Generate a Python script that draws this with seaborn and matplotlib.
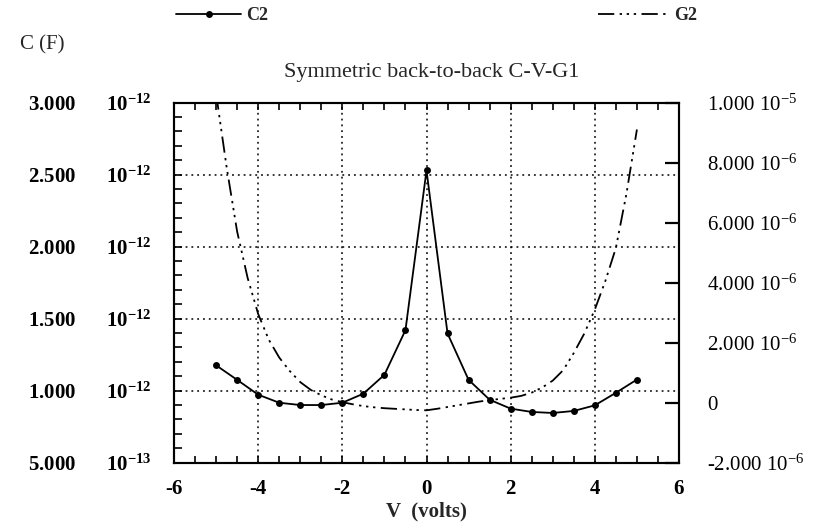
import numpy as np
import pandas as pd
import matplotlib
matplotlib.use("Agg")
import matplotlib.pyplot as plt
import seaborn as sns
from matplotlib.ticker import MultipleLocator

# ---------------- data ----------------
v_c2 = [-5.0, -4.5, -4.0, -3.5, -3.0, -2.5, -2.0, -1.5, -1.0, -0.5, 0.0,
        0.5, 1.0, 1.5, 2.0, 2.5, 3.0, 3.5, 4.0, 4.5, 5.0]
c2_pf = [1.175, 1.074, 0.971, 0.915, 0.899, 0.899, 0.915, 0.978, 1.109, 1.419, 2.528,
         1.396, 1.074, 0.936, 0.874, 0.851, 0.844, 0.858, 0.897, 0.984, 1.076]  # x 1e-12 F

v_g2 = [-5.0, -4.75, -4.5, -4.25, -4.0, -3.75, -3.5, -3.25, -3.0, -2.75, -2.5,
        -2.25, -2.0, -1.75, -1.5, -1.25, -1.0, -0.75, -0.5, -0.25, 0.0,
        0.25, 0.5, 0.75, 1.0, 1.25, 1.5, 1.75, 2.0, 2.25, 2.5,
        2.75, 3.0, 3.25, 3.5, 3.75, 4.0, 4.25, 4.5, 4.75, 5.0]
g2_us = [10.3, 7.85, 5.7, 4.15, 2.95, 2.1, 1.5, 1.05, 0.68, 0.42, 0.24,
         0.10, 0.01, -0.06, -0.12, -0.16, -0.19, -0.21, -0.23, -0.25, -0.26,
         -0.21, -0.15, -0.09, -0.03, 0.03, 0.08, 0.12, 0.16, 0.22, 0.33,
         0.50, 0.73, 1.08, 1.65, 2.30, 3.10, 4.05, 5.15, 6.95, 9.10]  # x 1e-6 S

x_ticks = [-6, -4, -2, 0, 2, 4, 6]
x_ticklabels = ["-6", "-4", "-2", "0", "2", "4", "6"]
left_ticks_pf = [0.5, 1.0, 1.5, 2.0, 2.5, 3.0]
left_ticklabels = [r"5.000      $\mathbf{10^{-13}}$", r"1.000      $\mathbf{10^{-12}}$",
                   r"1.500      $\mathbf{10^{-12}}$", r"2.000      $\mathbf{10^{-12}}$",
                   r"2.500      $\mathbf{10^{-12}}$", r"3.000      $\mathbf{10^{-12}}$"]
right_ticks_us = [-2, 0, 2, 4, 6, 8, 10]
right_ticklabels = [r"-2.000 $10^{-6}$", "0", r"2.000 $10^{-6}$", r"4.000 $10^{-6}$",
                    r"6.000 $10^{-6}$", r"8.000 $10^{-6}$", r"1.000 $10^{-5}$"]

title = "Symmetric back-to-back C-V-G1"
left_label = "C (F)"
x_label = "V  (volts)"

# ---------------- style ----------------
sns.set_theme(style="white")
plt.rcParams["font.family"] = ["Liberation Serif", "DejaVu Serif"]
plt.rcParams["mathtext.fontset"] = "custom"
plt.rcParams["mathtext.rm"] = "Liberation Serif"
plt.rcParams["mathtext.it"] = "Liberation Serif:italic"
plt.rcParams["mathtext.bf"] = "Liberation Serif:bold"

fig = plt.figure(figsize=(8.15, 5.31), dpi=100)
L, R, T, B = 174, 679, 102.5, 462.5
ax = fig.add_axes([L / 815, 1 - B / 531, (R - L) / 815, (B - T) / 531])

df_c = pd.DataFrame({"V": v_c2, "C": np.array(c2_pf) * 1e-12})
df_g = pd.DataFrame({"V": v_g2, "G": np.array(g2_us) * 1e-6})

sns.lineplot(data=df_c, x="V", y="C", ax=ax, color="black", lw=1.3,
             marker="o", markersize=5, markeredgewidth=0, label="C2", legend=False)

ax2 = ax.twinx()
sns.lineplot(data=df_g, x="V", y="G", ax=ax2, color="black", lw=1.3,
             linestyle=(0, (9, 3, 1.3, 2.6, 1.3, 2.6, 1.3, 3)), label="G2", legend=False)

ax.set_xlim(-6, 6)
ax.set_ylim(0.5e-12, 3.0e-12)
ax2.set_ylim(-2e-6, 1e-5)

ax.set_xticks(x_ticks, x_ticklabels, fontsize=15, fontweight="bold")
ax.set_yticks(np.array(left_ticks_pf) * 1e-12, left_ticklabels, fontsize=15, fontweight="bold")
ax.xaxis.set_minor_locator(MultipleLocator(0.5))
ax.yaxis.set_minor_locator(MultipleLocator(0.1e-12))
ax2.set_yticks(np.array(right_ticks_us) * 1e-6, right_ticklabels, fontsize=15)

ax.tick_params(axis="both", which="both", direction="in", colors="black", width=1.2,
               top=True, bottom=True, left=True, right=False)
ax.tick_params(axis="y", which="major", length=6, pad=16)
ax.tick_params(axis="y", which="minor", length=6)
ax.tick_params(axis="x", which="major", length=5, pad=12)
ax.tick_params(axis="x", which="minor", length=5)
ax2.tick_params(axis="y", which="major", direction="in", length=10, width=1.6,
                pad=20, colors="black", right=True, left=False)
ax2.tick_params(axis="y", which="minor", right=False, left=False)

ax.grid(True, which="major", color="black", linestyle=(0, (1.2, 2.6)), linewidth=1.1)
ax2.grid(False)
for a in (ax, ax2):
    for s in a.spines.values():
        s.set_visible(True)
        s.set_color("black")
        s.set_linewidth(1.5)

ax.set_xlabel(x_label, fontsize=15, fontweight="bold", labelpad=2)
ax.set_ylabel("")
ax2.set_ylabel("")

fig.text(432 / 815, 1 - 72 / 531, title, ha="center", va="center", fontsize=16)
fig.text(20 / 815, 1 - 45 / 531, left_label, ha="left", va="center", fontsize=15)

h1 = ax.get_lines()[0]
h2 = ax2.get_lines()[0]
fig.legend(handles=[h1], labels=["C2"], loc="center left",
           bbox_to_anchor=(176 / 815, 1 - 16 / 531), frameon=False,
           handlelength=3.6, handletextpad=0.3, borderpad=0, borderaxespad=0,
           prop={"family": "Liberation Serif", "weight": "bold", "size": 13})
fig.legend(handles=[h2], labels=["G2"], loc="center left",
           bbox_to_anchor=(598 / 815, 1 - 16 / 531), frameon=False,
           handlelength=3.9, handletextpad=0.3, borderpad=0, borderaxespad=0,
           prop={"family": "Liberation Serif", "weight": "bold", "size": 13})

fig.savefig("out.png", dpi=100)
